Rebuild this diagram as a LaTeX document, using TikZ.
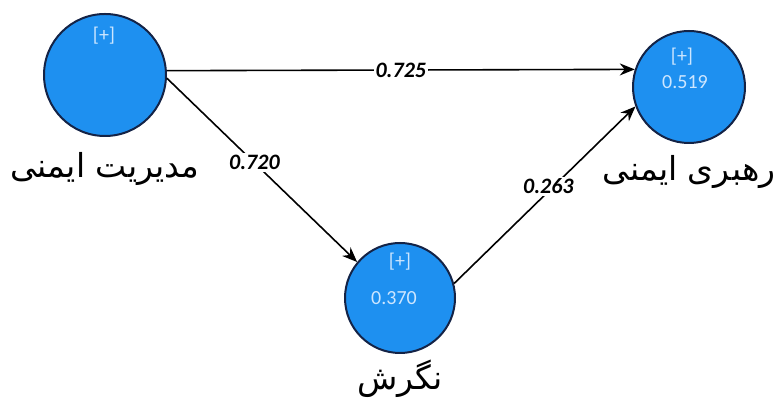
\documentclass[tikz,border=0pt]{standalone}
\usepackage{fontspec}
\setmainfont{Carlito}
\newfontfamily\arabicfont[Script=Arabic]{DejaVu Sans}
\TeXXeTstate=1
\usepackage{tikz}
\usetikzlibrary{positioning,arrows.meta}
\definecolor{lvblue}{RGB}{30,144,240}
\definecolor{lvedge}{RGB}{20,35,70}
\definecolor{lvtext}{RGB}{205,230,255}
\newcommand{\fa}[1]{{\arabicfont\beginR #1\endR}}

\begin{document}
\begin{tikzpicture}[
  x=1pt, y=1pt,
  lv/.style={circle, draw=lvedge, line width=2pt, fill=lvblue, inner sep=0pt},
  lvin/.style={text=lvtext, font=\fontsize{20}{20}\selectfont, inner sep=0pt},
  lvname/.style={font=\fontsize{33}{36}\selectfont, inner sep=0pt},
  coef/.style={fill=white, font=\fontsize{22}{22}\selectfont\bfseries\itshape, inner sep=2pt},
  link/.style={->, line width=1.6pt},
  >={Stealth[length=15pt, width=12pt]}
]
\useasboundingbox (0,0) rectangle (784,401);
\node[lv, minimum size=122pt] (ms) at (105,326) {};
\node[lv, minimum size=112pt] (sl) at (689,314) {};
\node[lv, minimum size=110pt] (att) at (400,103) {};
\node[lvin] (msplus) at (104,365) {[+]};
\node[lvin] (slplus) at (682,344) {[+]};
\node[lvin] (slr2) at (685,319) {0.519};
\node[lvin] (attplus) at (400,139) {[+]};
\node[lvin] (attr2) at (394,103) {0.370};
\node[lvname, below=15pt of ms] (msname) {\fa{مدیریت ایمنی}};
\node[lvname, below=11pt of sl] (slname) {\fa{رهبری ایمنی}};
\node[lvname, below=6pt of att] (attname) {\fa{نگرش}};
\draw[link] (ms.4.7) -- (sl.162.3) node[coef, pos=0.5] {0.725};
\draw[link] (ms.-3) -- (att.140) node[coef, pos=0.46] {0.720};
\draw[link] (att.15) -- (sl.200) node[coef, pos=0.52, yshift=5pt] {0.263};
\end{tikzpicture}
\end{document}
